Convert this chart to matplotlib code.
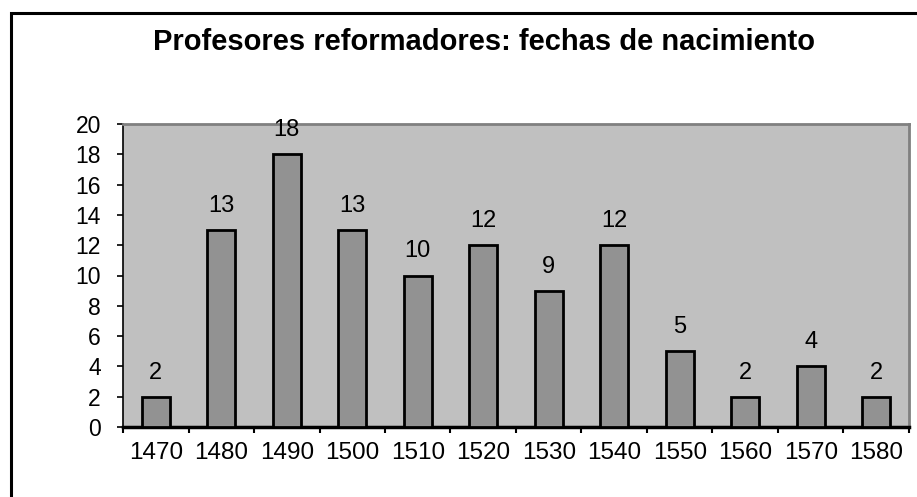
import matplotlib.pyplot as plt
import numpy as np
from matplotlib.patches import Rectangle

# Data
decades = ['1470', '1480', '1490', '1500', '1510', '1520',
           '1530', '1540', '1550', '1560', '1570', '1580']
counts = [2, 13, 18, 13, 10, 12, 9, 12, 5, 2, 4, 2]
title = 'Profesores reformadores: fechas de nacimiento'

plt.rcParams['font.family'] = ['Liberation Sans', 'DejaVu Sans']

W, H = 917, 497
fig = plt.figure(figsize=(W / 100, H / 100), dpi=100)
fig.patch.set_facecolor('white')

# outer chart border (only left and top visible, rest runs off the picture)
fig.patches.append(Rectangle((10.5 / W, -0.2), 1.5, 1.2 - 12.5 / H,
                             transform=fig.transFigure, fill=False,
                             edgecolor='black', linewidth=2.2))

ax = fig.add_axes([123 / W, 1 - 427 / H, (909 - 123) / W, (427 - 124) / H])
ax.set_facecolor('#C0C0C0')

x = np.arange(len(decades))
ax.bar(x, counts, width=0.43, color='#929292', edgecolor='black',
       linewidth=2.0, zorder=3)

for xi, v in zip(x, counts):
    ax.annotate(str(v), (xi, v), xytext=(0, 13), textcoords='offset points',
                ha='center', va='baseline', fontsize=17)

ax.set_xlim(-0.5, len(decades) - 0.5)
ax.set_ylim(0, 20)
ax.set_yticks(np.arange(0, 21, 2))
ax.tick_params(axis='y', labelsize=16.5, length=4, width=1.2, pad=12)

# category ticks at boundaries, labels centred under bars
ax.set_xticks(np.arange(-0.5, len(decades)), minor=False)
ax.set_xticklabels([])
ax.set_xticks(x, minor=True)
ax.set_xticklabels(decades, minor=True)
ax.tick_params(axis='x', which='major', length=4.5, width=1.5)
ax.tick_params(axis='x', which='minor', length=0, labelsize=17.5, pad=11)

for s in ['top', 'right']:
    ax.spines[s].set_color('#808080')
    ax.spines[s].set_linewidth(2)
ax.spines['left'].set_color('black')
ax.spines['left'].set_linewidth(1.2)
ax.spines['bottom'].set_color('black')
ax.spines['bottom'].set_linewidth(2.5)

fig.text(0.528, 1 - 50 / H, title, ha='center', va='baseline',
         fontsize=21, fontweight='bold')

fig.savefig('out.png', dpi=100)
